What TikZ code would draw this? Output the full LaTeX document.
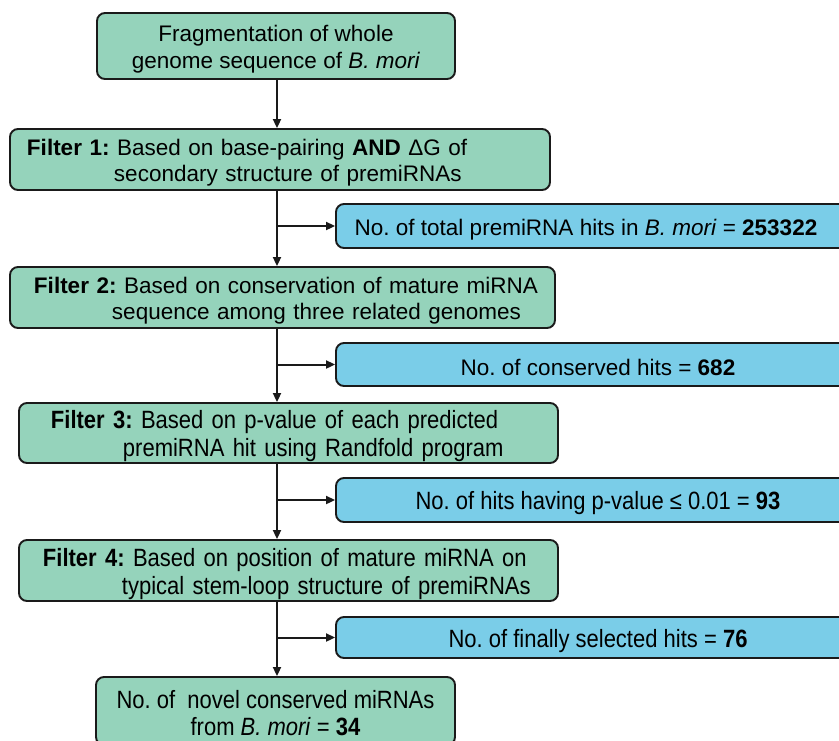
\documentclass[tikz,border=0pt]{standalone}
\usepackage{fontspec}
\setmainfont{Liberation Sans}
\newfontfamily\narrowfont[FakeStretch=0.88]{Liberation Sans}
\usetikzlibrary{arrows.meta}
\definecolor{boxgreen}{HTML}{95D3BB}
\definecolor{boxblue}{HTML}{7ACDE8}
\definecolor{edgecol}{HTML}{1A1A1A}
\newcommand{\lowstrut}{\rule{0pt}{23pt}}
\begin{document}
\frenchspacing
\begin{tikzpicture}[x=1pt,y=-1pt,
  basebox/.style={draw=edgecol, line width=1.9pt, rounded corners=8pt, inner sep=0pt},
  greenbox/.style={basebox, fill=boxgreen},
  bluebox/.style={basebox, fill=boxblue, minimum width=524pt, align=center,
    font=\fontsize{22.5}{26}\selectfont},
  filterbox/.style={greenbox, align=left, font=\fontsize{22.5}{26}\selectfont},
  nfilterbox/.style={greenbox, align=left, font=\narrowfont\fontsize{25}{28}\selectfont},
  flow/.style={draw=edgecol, line width=2pt, -{Triangle[length=9pt,width=8pt]}}]
\useasboundingbox (0,0) rectangle (839,740);
\clip (0,0) rectangle (839,740);
\fill[white] (0,0) rectangle (839,740);

\coordinate (sp) at (277,0);

\node[greenbox, minimum width=358pt, minimum height=66pt, align=center,
  font=\fontsize{22.5}{27}\selectfont] (top) at (276,46)
  {\lowstrut Fragmentation of whole\\genome sequence of \textit{B. mori}};

\node[filterbox, text width=540pt, minimum height=61pt] (f1) at (280,159.5)
  {\lowstrut\hspace*{17pt}\textbf{Filter 1:} Based on base-pairing \textbf{AND} ΔG of\\
   \hspace*{104pt}secondary structure of premiRNAs};

\node[bluebox, minimum height=44pt] (b1) at (598,226)
  {\lowstrut No. of total premiRNA hits in \textit{B. mori} = \textbf{253322}\hspace*{24pt}};

\node[filterbox, text width=545pt, minimum height=61pt] (f2) at (282.5,297.5)
  {\lowstrut\hspace*{24pt}\textbf{Filter 2:} Based on conservation of mature miRNA\\
   \hspace*{102pt}sequence among three related genomes};

\node[bluebox, minimum height=43pt] (b2) at (598,364.5)
  {\lowstrut No. of conserved hits = \textbf{682}};

\node[nfilterbox, text width=539pt, minimum height=60pt] (f3) at (288.5,433)
  {\rule{0pt}{25pt}\hspace*{32pt}\textbf{Filter 3:} Based on p-value of each predicted\\
   \hspace*{104pt}premiRNA hit using Randfold program};

\node[bluebox, minimum height=44pt, font=\narrowfont\fontsize{25}{28}\selectfont] (b3) at (598,500)
  {\rule{0pt}{25pt}No. of hits having p-value ≤ 0.01 = \textbf{93}};

\node[nfilterbox, text width=539pt, minimum height=61pt] (f4) at (288.5,570.5)
  {\rule{0pt}{25pt}\hspace*{24pt}\textbf{Filter 4:} Based on position of mature miRNA on\\
   \hspace*{103pt}typical stem-loop structure of premiRNAs};

\node[bluebox, minimum height=41pt, font=\narrowfont\fontsize{25}{28}\selectfont] (b4) at (598,637.5)
  {\rule{0pt}{25pt}No. of finally selected hits = \textbf{76}};

\node[greenbox, minimum width=359pt, minimum height=68pt, align=center,
  font=\narrowfont\fontsize{25}{27}\selectfont] (bot) at (275.5,711)
  {\rule{0pt}{23pt}No. of\ \ novel conserved miRNAs\\from \textit{B. mori} = \textbf{34}};

\draw[flow] (top.south -| sp) -- (f1.north -| sp);
\draw[flow] (f1.south -| sp) -- (f2.north -| sp);
\draw[flow] (f2.south -| sp) -- (f3.north -| sp);
\draw[flow] (f3.south -| sp) -- (f4.north -| sp);
\draw[flow] (f4.south -| sp) -- (bot.north -| sp);

\draw[flow] (b1.west -| sp) -- (b1.west);
\draw[flow] (b2.west -| sp) -- (b2.west);
\draw[flow] (b3.west -| sp) -- (b3.west);
\draw[flow] (b4.west -| sp) -- (b4.west);
\end{tikzpicture}
\end{document}
